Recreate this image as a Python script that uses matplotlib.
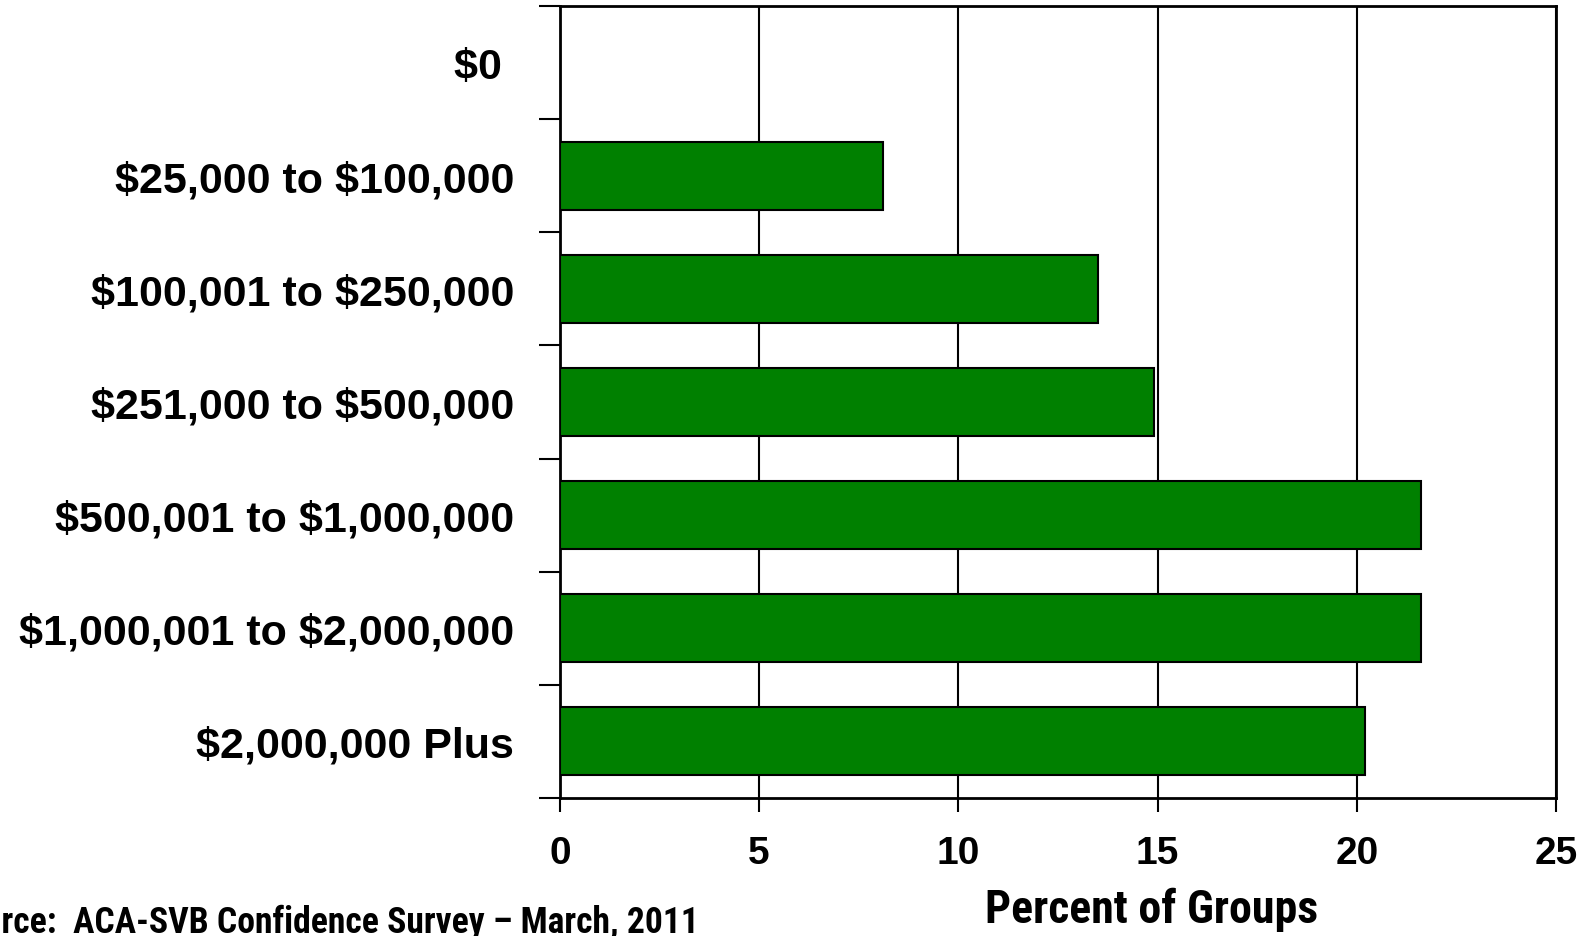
import matplotlib
matplotlib.use("Agg")
import matplotlib.pyplot as plt
from matplotlib import font_manager as fm
from matplotlib.ticker import FixedLocator, NullFormatter
import numpy as np

# Capital raised brackets and share of groups (percent)
categories = [
    "\\$0 ",
    "\\$25,000 to \\$100,000",
    "\\$100,001 to \\$250,000",
    "\\$251,000 to \\$500,000",
    "\\$500,001 to \\$1,000,000",
    "\\$1,000,001 to \\$2,000,000",
    "\\$2,000,000 Plus",
]
percent_of_groups = [0.0, 8.1, 13.5, 14.9, 21.6, 21.6, 20.2]
x_ticks = [0, 5, 10, 15, 20, 25]

x_title = "Percent of Groups"
source_note = "Source:  ACA-SVB Confidence Survey \u2013 March, 2011"

bold_font = ["Liberation Sans", "DejaVu Sans"]

# narrow bold face for the axis title and the footer
installed = {f.name for f in fm.fontManager.ttflist}
narrow_family = "Liberation Sans"
for name in ["Liberation Sans Narrow", "Roboto Condensed", "Asap Condensed",
             "Barlow Semi Condensed"]:
    if name in installed:
        narrow_family = name
        break
narrow = fm.FontProperties(family=[narrow_family, "DejaVu Sans"], weight="bold")

fig = plt.figure(figsize=(15.93, 9.37), dpi=100)
ax = fig.add_axes([0.3515, 0.1473, 0.6253, 0.8452])

y = np.arange(len(categories))
ax.barh(y, percent_of_groups, height=0.6, color="#008000",
        edgecolor="black", linewidth=1.5, zorder=3)

ax.set_xlim(0, 25)
ax.set_ylim(len(categories) - 0.5, -0.5)

ax.set_xticks(x_ticks)
ax.set_xticklabels([str(t) for t in x_ticks], fontsize=28, fontweight="bold",
                   family=bold_font)
ax.tick_params(axis="x", direction="out", length=10, width=1.5, pad=17)

ax.set_yticks(y)
ax.set_yticklabels(categories, fontsize=31, fontweight="bold", family=bold_font)
ax.tick_params(axis="y", which="major", length=0, pad=33)
ax.yaxis.set_minor_locator(FixedLocator(np.arange(-0.5, len(categories), 1.0)))
ax.yaxis.set_minor_formatter(NullFormatter())
ax.tick_params(axis="y", which="minor", direction="out", length=15, width=1.5)

ax.grid(axis="x", color="black", linewidth=1.5, zorder=1)
ax.set_axisbelow(True)
for side in ax.spines.values():
    side.set_linewidth(2)
    side.set_color("black")


def fitted_size(text, width_px, base=30.0):
    """Font size at which `text` in the narrow face spans width_px pixels."""
    probe = fig.text(0, 0, text, fontproperties=narrow, fontsize=base)
    w = probe.get_window_extent(fig.canvas.get_renderer()).width
    probe.remove()
    return base * width_px / w


title_size = fitted_size(x_title, 333)
fig.text(0.7229, 0.0149, x_title, fontproperties=narrow, fontsize=title_size,
         ha="center", va="baseline")

# the footer runs off the left edge; its visible part ends at x = 699 px
source_size = fitted_size(source_note[3:], 699)
fig.text(699 / 1593, 0.0043, source_note, fontproperties=narrow,
         fontsize=source_size, ha="right", va="baseline")

fig.savefig("out.png", dpi=100)
